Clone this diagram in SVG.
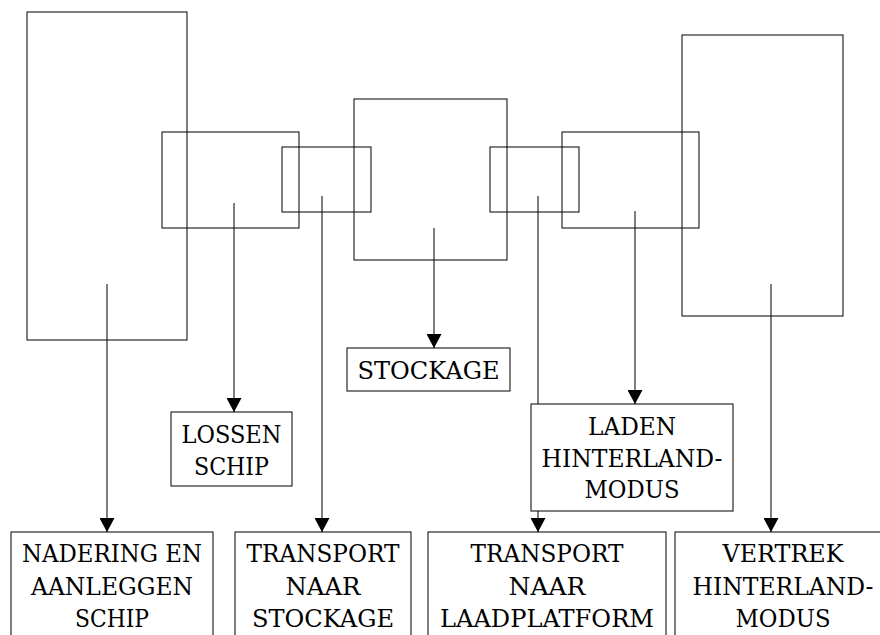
<svg xmlns="http://www.w3.org/2000/svg" width="880" height="635" viewBox="0 0 880 635">
<style>
.frame{fill:none;stroke:#000;stroke-width:1}
.box{fill:#fff;stroke:#000;stroke-width:1}
.conn{stroke:#000;stroke-width:1;fill:none;marker-end:url(#arr)}
.lbl text{font-family:'Liberation Serif','DejaVu Serif',serif;font-size:24.5px;text-anchor:middle;fill:#000}
</style>
<defs>
<marker id="arr" markerUnits="userSpaceOnUse" markerWidth="15" markerHeight="15" refX="14" refY="7.5" orient="auto">
<path d="M0,0 L14,7.5 L0,15 z" fill="#000"/>
</marker>
</defs>
<rect width="880" height="635" fill="#fff"/>
<g id="frame-nadering"><rect class="frame" x="27" y="12" width="160" height="328"/></g>
<g id="frame-lossen"><rect class="frame" x="162" y="132" width="137" height="96"/></g>
<g id="frame-transport1"><rect class="frame" x="282" y="147" width="89" height="65"/></g>
<g id="frame-stockage"><rect class="frame" x="354" y="99" width="153" height="161"/></g>
<g id="frame-transport2"><rect class="frame" x="490" y="147" width="89" height="65"/></g>
<g id="frame-laden"><rect class="frame" x="562" y="132" width="137" height="96"/></g>
<g id="frame-vertrek"><rect class="frame" x="682" y="35" width="161" height="281"/></g>
<g id="connectors">
<line class="conn" x1="107" y1="284" x2="107" y2="532"/>
<line class="conn" x1="234" y1="203" x2="234" y2="412"/>
<line class="conn" x1="322" y1="196" x2="322" y2="532"/>
<line class="conn" x1="434" y1="228" x2="434" y2="348"/>
<line class="conn" x1="538" y1="196" x2="538" y2="532"/>
<line class="conn" x1="635" y1="211" x2="635" y2="404"/>
<line class="conn" x1="771" y1="284" x2="771" y2="532"/>
</g>
<g class="lbl" style="font-family:'DejaVu Serif',serif">
<g id="node-lossen"><rect class="box" x="171" y="412" width="121" height="74"/><text style="font-family:'DejaVu Serif',serif" x="231.5" y="443" textLength="100" lengthAdjust="spacingAndGlyphs">LOSSEN</text><text style="font-family:'DejaVu Serif',serif" x="231.5" y="475" textLength="75" lengthAdjust="spacingAndGlyphs">SCHIP</text></g>
<g id="node-stockage"><rect class="box" x="347" y="348" width="163" height="43"/><text style="font-family:'DejaVu Serif',serif" x="428.5" y="379" textLength="142" lengthAdjust="spacingAndGlyphs">STOCKAGE</text></g>
<g id="node-laden"><rect class="box" x="531" y="404" width="202" height="107"/><text style="font-family:'DejaVu Serif',serif" x="632" y="435" textLength="88" lengthAdjust="spacingAndGlyphs">LADEN</text><text style="font-family:'DejaVu Serif',serif" x="632" y="467" textLength="181" lengthAdjust="spacingAndGlyphs">HINTERLAND-</text><text style="font-family:'DejaVu Serif',serif" x="632" y="498" textLength="95" lengthAdjust="spacingAndGlyphs">MODUS</text></g>
<g id="node-nadering"><rect class="box" x="11" y="532" width="202" height="110"/><text style="font-family:'DejaVu Serif',serif" x="112" y="562" textLength="180" lengthAdjust="spacingAndGlyphs">NADERING EN</text><text style="font-family:'DejaVu Serif',serif" x="112" y="595" textLength="162" lengthAdjust="spacingAndGlyphs">AANLEGGEN</text><text style="font-family:'DejaVu Serif',serif" x="112" y="627" textLength="74" lengthAdjust="spacingAndGlyphs">SCHIP</text></g>
<g id="node-transport-stockage"><rect class="box" x="235" y="532" width="176" height="110"/><text style="font-family:'DejaVu Serif',serif" x="323" y="562" textLength="153" lengthAdjust="spacingAndGlyphs">TRANSPORT</text><text style="font-family:'DejaVu Serif',serif" x="323" y="595" textLength="75" lengthAdjust="spacingAndGlyphs">NAAR</text><text style="font-family:'DejaVu Serif',serif" x="323" y="627" textLength="142" lengthAdjust="spacingAndGlyphs">STOCKAGE</text></g>
<g id="node-transport-laadplatform"><rect class="box" x="428" y="532" width="238" height="110"/><text style="font-family:'DejaVu Serif',serif" x="547" y="562" textLength="153" lengthAdjust="spacingAndGlyphs">TRANSPORT</text><text style="font-family:'DejaVu Serif',serif" x="547" y="595" textLength="77" lengthAdjust="spacingAndGlyphs">NAAR</text><text style="font-family:'DejaVu Serif',serif" x="547" y="627" textLength="214" lengthAdjust="spacingAndGlyphs">LAADPLATFORM</text></g>
<g id="node-vertrek"><rect class="box" x="675" y="532" width="216" height="110"/><text style="font-family:'DejaVu Serif',serif" x="783" y="562" textLength="121" lengthAdjust="spacingAndGlyphs">VERTREK</text><text style="font-family:'DejaVu Serif',serif" x="783" y="595" textLength="181" lengthAdjust="spacingAndGlyphs">HINTERLAND-</text><text style="font-family:'DejaVu Serif',serif" x="783" y="627" textLength="95" lengthAdjust="spacingAndGlyphs">MODUS</text></g>
</g>
</svg>
